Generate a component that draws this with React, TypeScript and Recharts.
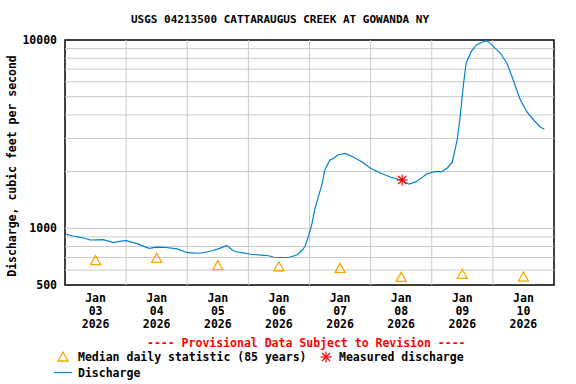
import {
  ComposedChart,
  Line,
  Scatter,
  XAxis,
  YAxis,
  ReferenceLine,
  ReferenceArea,
} from 'recharts';

const FONT = '"DejaVu Sans Mono", "Liberation Mono", monospace';

// hours since Jan 03 2026 00:00
const hours = [
  0, 3, 6, 10, 15, 19, 22, 24, 28, 33, 36, 39, 44, 48, 53, 58, 61, 63.5, 65.5, 67,
  70, 73, 77, 80, 82, 85, 88, 91, 93, 94.2, 95.5, 96.5, 97, 98, 99.5, 101, 102, 104,
  105.5, 107, 110, 113, 116.5, 120, 124, 128, 132, 135, 138, 142, 145, 148, 150, 152,
  154, 155, 156.5, 157.5, 159.5, 161.5, 163.5, 165.5, 167, 168.2, 171, 173.5, 176,
  178.5, 181.3, 184, 186.5, 188.2,
];
const discharge = [
  935, 910, 896, 867, 870, 839, 855, 860, 832, 783, 795, 793, 777, 742, 737, 760, 785,
  812, 770, 751, 740, 728, 721, 715, 702, 700, 702, 721, 760, 800, 902, 1000, 1063,
  1251, 1472, 1734, 2040, 2306, 2355, 2450, 2500, 2400, 2259, 2084, 1959, 1866, 1805,
  1719, 1769, 1943, 1999, 1999, 2084, 2240, 2944, 3760, 5890, 7523, 8670, 9413, 9700,
  9921, 9600, 9217, 8502, 7523, 6133, 4903, 4163, 3760, 3465, 3357,
];

const medianHours = [12, 36, 60, 84, 108, 132, 156, 180];
const medianFlow = [673, 693, 633, 625, 613, 549, 570, 551];

const measuredHours = [132.4];
const measuredFlow = [1805];

const dayTicks = [12, 36, 60, 84, 108, 132, 156, 180];
const dayLabels = ['03', '04', '05', '06', '07', '08', '09', '10'];
const midnightTicks = [24, 48, 72, 96, 120, 144, 168];
const yTicks = [500, 1000, 10000];
const yGridTicks = [600, 700, 800, 900, 1000, 2000, 3000, 4000, 5000, 6000, 7000, 8000, 9000];

const flowData = hours.map((h, i) => ({ h, q: discharge[i] }));
const medianData = medianHours.map((h, i) => ({ h, q: medianFlow[i] }));
const measuredData = measuredHours.map((h, i) => ({ h, q: measuredFlow[i] }));

const GRID = '#c8c8c8';
const BLUE = '#0080d0';

const DayTick = (props: any) => {
  const { x, y, payload } = props;
  const idx = dayTicks.indexOf(payload.value);
  return (
    <text
      x={x}
      y={y}
      textAnchor="middle"
      fontFamily={FONT}
      fontWeight="bold"
      fontSize={11.5}
      fill="#000"
    >
      <tspan x={x} dy={17}>Jan</tspan>
      <tspan x={x} dy={13}>{dayLabels[idx]}</tspan>
      <tspan x={x} dy={13}>2026</tspan>
    </text>
  );
};

const Triangle = (props: any) => {
  const { cx, cy } = props;
  return (
    <polygon
      points={`${cx - 5},${cy + 4} ${cx + 5},${cy + 4} ${cx},${cy - 5}`}
      fill="none"
      stroke="#ffa500"
      strokeWidth={1.3}
    />
  );
};

const Star = (props: any) => {
  const { cx, cy } = props;
  const r = 5.5;
  const d = 4;
  return (
    <g stroke="#ff0000" strokeWidth={1.2}>
      <line x1={cx - r} y1={cy} x2={cx + r} y2={cy} />
      <line x1={cx} y1={cy - r} x2={cx} y2={cy + r} />
      <line x1={cx - d} y1={cy - d} x2={cx + d} y2={cy + d} />
      <line x1={cx - d} y1={cy + d} x2={cx + d} y2={cy - d} />
      <circle cx={cx} cy={cy} r={1.8} fill="#ff0000" stroke="none" />
    </g>
  );
};

const textStyle = {
  position: 'absolute' as const,
  fontFamily: FONT,
  fontWeight: 'bold' as const,
  fontSize: 11.5,
  lineHeight: '14px',
  color: '#000',
  whiteSpace: 'nowrap' as const,
};

export default function App() {
  return (
    <div
      style={{
        position: 'absolute',
        left: 0,
        top: 0,
        width: 576,
        height: 384,
        background: '#fff',
        overflow: 'hidden',
      }}
    >
      <div style={{ ...textStyle, fontSize: 11, left: 0, width: 560, top: 13, textAlign: 'center' }}>
        USGS 04213500 CATTARAUGUS CREEK AT GOWANDA NY
      </div>
      <div
        style={{
          ...textStyle,
          left: 12 - 120,
          top: 166 - 7,
          width: 240,
          textAlign: 'center',
          transform: 'rotate(-90deg)',
          transformOrigin: 'center',
        }}
      >
        Discharge, cubic feet per second
      </div>

      <ComposedChart
        width={576}
        height={384}
        margin={{ top: 40, right: 22, bottom: 54, left: 0 }}
      >
        <XAxis
          type="number"
          dataKey="h"
          domain={[0, 192]}
          allowDataOverflow
          ticks={dayTicks}
          interval={0}
          tick={<DayTick />}
          height={45}
          axisLine={false}
          tickLine={false}
          tickSize={0}
          tickMargin={0}
        />
        <YAxis
          scale="log"
          domain={[500, 10000]}
          allowDataOverflow
          ticks={yTicks}
          interval={0}
          width={65}
          axisLine={false}
          tickLine={false}
          tickSize={0}
          tickMargin={8}
          tick={{ fill: '#000', fontSize: 11.5, fontFamily: FONT, fontWeight: 'bold' }}
        />
        {yGridTicks.map((v) => (
          <ReferenceLine key={`y${v}`} y={v} stroke={GRID} strokeWidth={1} />
        ))}
        {midnightTicks.map((v) => (
          <ReferenceLine key={`x${v}`} x={v} stroke={GRID} strokeWidth={1} />
        ))}
        <Line
          data={flowData}
          dataKey="q"
          type="linear"
          stroke={BLUE}
          strokeWidth={1.2}
          dot={false}
          isAnimationActive={false}
        />
        <Scatter
          data={medianData}
          dataKey="q"
          shape={<Triangle />}
          isAnimationActive={false}
        />
        <Scatter
          data={measuredData}
          dataKey="q"
          shape={<Star />}
          isAnimationActive={false}
        />
        <ReferenceArea
          x1={0}
          x2={192}
          y1={500}
          y2={10000}
          fill="none"
          stroke="#000"
          strokeWidth={1.5}
          ifOverflow="visible"
        />
      </ComposedChart>

      <div style={{ ...textStyle, color: '#ff0000', left: 147, top: 336 }}>
        ---- Provisional Data Subject to Revision ----
      </div>
      <svg style={{ position: 'absolute', left: 56, top: 350 }} width={14} height={14}>
        <polygon points="2,11 12,11 7,2" fill="none" stroke="#ffa500" strokeWidth={1.3} />
      </svg>
      <div style={{ ...textStyle, left: 78, top: 350 }}>Median daily statistic (85 years)</div>
      <svg style={{ position: 'absolute', left: 319, top: 350 }} width={14} height={14}>
        <g stroke="#ff0000" strokeWidth={1.2}>
          <line x1={1.5} y1={7} x2={12.5} y2={7} />
          <line x1={7} y1={1.5} x2={7} y2={12.5} />
          <line x1={3} y1={3} x2={11} y2={11} />
          <line x1={3} y1={11} x2={11} y2={3} />
        </g>
      </svg>
      <div style={{ ...textStyle, left: 339, top: 350 }}>Measured discharge</div>
      <svg style={{ position: 'absolute', left: 54, top: 366 }} width={18} height={14}>
        <line x1={0} y1={6.5} x2={18} y2={6.5} stroke={BLUE} strokeWidth={1.2} />
      </svg>
      <div style={{ ...textStyle, left: 78, top: 366 }}>Discharge</div>
    </div>
  );
}
